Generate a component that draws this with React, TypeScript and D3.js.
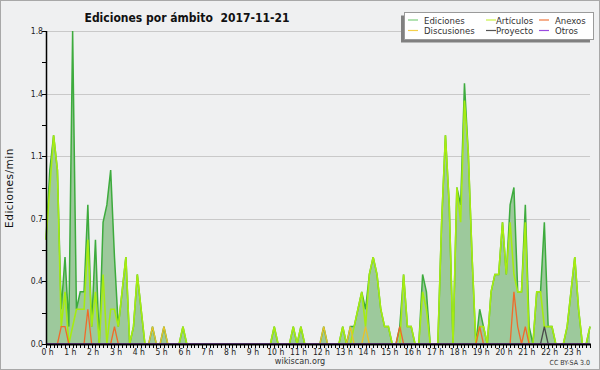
import React, { useRef, useEffect } from 'react';
import * as d3 from 'd3';

// one value every 10 minutes, 0:00 .. 23:50 (edits per minute)
const ediciones = [
  0.6, 1.0, 1.2, 1.0, 0.2, 0.5, 0.1, 1.8, 0.2, 0.3, 0.3, 0.8,
  0.1, 0.6, 0, 0.7, 0.8, 1.0, 0.5, 0.1, 0.3, 0.5, 0, 0.1,
  0.4, 0.2, 0, 0, 0.1, 0, 0, 0.1, 0, 0, 0, 0,
  0.1, 0, 0, 0, 0, 0, 0, 0, 0, 0, 0, 0,
  0, 0, 0, 0, 0, 0, 0, 0, 0, 0, 0, 0,
  0.1, 0, 0, 0, 0, 0.1, 0, 0.1, 0, 0, 0, 0,
  0, 0.1, 0, 0, 0, 0, 0.1, 0, 0.1, 0.1, 0.2, 0.3,
  0.2, 0.4, 0.5, 0.4, 0.2, 0.1, 0.1, 0, 0, 0.1, 0.4, 0.1,
  0.1, 0, 0, 0.4, 0.3, 0, 0, 0, 0.7, 1.2, 0.8, 0,
  0.9, 0.8, 1.5, 1.1, 0.5, 0, 0.2, 0.1, 0, 0.3, 0.4, 0.4,
  0.7, 0.4, 0.8, 0.9, 0.3, 0.3, 0.8, 0.1, 0, 0.3, 0.3, 0.7,
  0.1, 0.1, 0, 0, 0, 0.1, 0.3, 0.5, 0.2, 0, 0, 0.1
];

const articulos = [
  0.6, 0.9, 1.2, 1.0, 0.1, 0.3, 0, 0.1, 0.2, 0.2, 0.2, 0.6,
  0.1, 0.3, 0, 0.4, 0, 0.2, 0.2, 0.1, 0.3, 0.5, 0, 0.1,
  0.4, 0.2, 0, 0, 0, 0, 0, 0, 0, 0, 0, 0,
  0.1, 0, 0, 0, 0, 0, 0, 0, 0, 0, 0, 0,
  0, 0, 0, 0, 0, 0, 0, 0, 0, 0, 0, 0,
  0.1, 0, 0, 0, 0, 0.1, 0, 0.1, 0, 0, 0, 0,
  0, 0, 0, 0, 0, 0, 0.1, 0, 0, 0.1, 0.2, 0.3,
  0.1, 0.4, 0.5, 0.4, 0.2, 0.1, 0.1, 0, 0, 0, 0.4, 0.1,
  0.1, 0, 0, 0.3, 0.2, 0, 0, 0, 0.7, 1.2, 0.8, 0,
  0.9, 0.7, 1.4, 1.1, 0.5, 0, 0.1, 0.1, 0, 0.3, 0.4, 0.4,
  0.7, 0.4, 0.7, 0.4, 0.3, 0.3, 0.7, 0, 0, 0.3, 0.3, 0.1,
  0.1, 0.1, 0, 0, 0, 0.1, 0.3, 0.5, 0.2, 0, 0, 0.1
];

const anexos = [
  0, 0, 0, 0, 0.1, 0.1, 0, 0, 0, 0, 0, 0.2,
  0, 0, 0, 0, 0, 0, 0.1, 0, 0, 0, 0, 0,
  0, 0, 0, 0, 0, 0, 0, 0, 0, 0, 0, 0,
  0, 0, 0, 0, 0, 0, 0, 0, 0, 0, 0, 0,
  0, 0, 0, 0, 0, 0, 0, 0, 0, 0, 0, 0,
  0, 0, 0, 0, 0, 0, 0, 0, 0, 0, 0, 0,
  0, 0, 0, 0, 0, 0, 0, 0, 0, 0, 0, 0,
  0, 0, 0, 0, 0, 0, 0, 0, 0, 0.1, 0, 0,
  0, 0, 0, 0, 0, 0, 0, 0, 0, 0, 0, 0,
  0, 0, 0, 0, 0, 0, 0.1, 0, 0, 0, 0, 0,
  0, 0, 0, 0.3, 0.1, 0, 0.1, 0, 0, 0, 0, 0,
  0, 0, 0, 0, 0, 0, 0, 0, 0, 0, 0, 0
];

const discusiones = [
  0, 0, 0, 0, 0, 0, 0, 0, 0, 0, 0, 0,
  0, 0, 0, 0, 0, 0, 0, 0, 0, 0, 0, 0,
  0, 0, 0, 0, 0.1, 0, 0, 0.1, 0, 0, 0, 0,
  0, 0, 0, 0, 0, 0, 0, 0, 0, 0, 0, 0,
  0, 0, 0, 0, 0, 0, 0, 0, 0, 0, 0, 0,
  0, 0, 0, 0, 0, 0, 0, 0, 0, 0, 0, 0,
  0, 0.1, 0, 0, 0, 0, 0, 0, 0.1, 0, 0, 0,
  0.1, 0, 0, 0, 0, 0, 0, 0, 0, 0, 0, 0,
  0, 0, 0, 0, 0, 0, 0, 0, 0, 0, 0, 0,
  0, 0, 0, 0, 0, 0, 0, 0, 0, 0, 0, 0,
  0, 0, 0, 0, 0, 0, 0, 0, 0, 0, 0, 0,
  0, 0, 0, 0, 0, 0, 0, 0, 0, 0, 0, 0
];

const proyecto = [
  0, 0, 0, 0, 0, 0, 0, 0, 0, 0, 0, 0,
  0, 0, 0, 0, 0, 0, 0, 0, 0, 0, 0, 0,
  0, 0, 0, 0, 0, 0, 0, 0, 0, 0, 0, 0,
  0, 0, 0, 0, 0, 0, 0, 0, 0, 0, 0, 0,
  0, 0, 0, 0, 0, 0, 0, 0, 0, 0, 0, 0,
  0, 0, 0, 0, 0, 0, 0, 0, 0, 0, 0, 0,
  0, 0, 0, 0, 0, 0, 0, 0, 0, 0, 0, 0,
  0, 0, 0, 0, 0, 0, 0, 0, 0, 0, 0, 0,
  0, 0, 0, 0, 0, 0, 0, 0, 0, 0, 0, 0,
  0, 0, 0, 0, 0, 0, 0, 0, 0, 0, 0, 0,
  0, 0, 0, 0, 0, 0, 0, 0, 0, 0, 0, 0.1,
  0, 0, 0, 0, 0, 0, 0, 0, 0, 0, 0, 0
];

const otros = new Array(144).fill(0);

const hourLabels = [
  '0 h', '1 h', '2 h', '3 h', '4 h', '5 h', '6 h', '7 h', '8 h', '9 h', '10 h', '11 h',
  '12 h', '13 h', '14 h', '15 h', '16 h', '17 h', '18 h', '19 h', '20 h', '21 h', '22 h', '23 h'
];
const yTicks = [0, 0.36, 0.72, 1.08, 1.44, 1.8];

const legendItems = [
  { name: 'Ediciones', color: '#7fcf7f', col: 0, row: 0 },
  { name: 'Discusiones', color: '#f5d04a', col: 0, row: 1 },
  { name: 'Artículos', color: '#c8f048', col: 1, row: 0 },
  { name: 'Proyecto', color: '#555555', col: 1, row: 1 },
  { name: 'Anexos', color: '#f07840', col: 2, row: 0 },
  { name: 'Otros', color: '#9a4ae0', col: 2, row: 1 }
];

const W = 600;
const H = 370;

const App: React.FC = () => {
  const svgRef = useRef<SVGSVGElement>(null);

  useEffect(() => {
    if (!svgRef.current) return;
    const svg = d3.select(svgRef.current);
    svg.selectAll('*').remove();

    const left = 46, right = 590, top = 31, bottom = 344;
    const font = "'DejaVu Sans Condensed', 'DejaVu Sans', sans-serif";

    const x = d3.scaleLinear().domain([0, 143]).range([left, right]);
    const y = d3.scaleLinear().domain([0, 1.8]).range([bottom, top]);

    // background + frame
    svg.append('rect').attr('x', 0.5).attr('y', 0.5).attr('width', W - 1).attr('height', H - 1)
      .attr('fill', '#eff0f1').attr('stroke', '#a8a8a8');

    // grid
    svg.append('g').selectAll('line').data(yTicks.slice(1)).enter().append('line')
      .attr('x1', left).attr('x2', right)
      .attr('y1', d => Math.round(y(d)) + 0.5).attr('y2', d => Math.round(y(d)) + 0.5)
      .attr('stroke', '#c9c9c9');

    const idx = d3.range(ediciones.length);

    const area = d3.area<number>()
      .x(i => x(i)).y0(bottom).y1(i => y(ediciones[i]));
    const line = (vals: number[]) => d3.line<number>().x(i => x(i)).y(i => y(vals[i]))(idx);

    svg.append('path').attr('d', area(idx)).attr('fill', '#9dc99c');
    svg.append('path').attr('d', line(ediciones)).attr('fill', 'none')
      .attr('stroke', '#3dab3d').attr('stroke-width', 1.5);
    svg.append('path').attr('d', line(articulos)).attr('fill', 'none')
      .attr('stroke', '#a6ec10').attr('stroke-width', 1.6);
    svg.append('path').attr('d', line(anexos)).attr('fill', 'none')
      .attr('stroke', '#f06a2a').attr('stroke-width', 1.3);
    svg.append('path').attr('d', line(discusiones)).attr('fill', 'none')
      .attr('stroke', '#e8c22a').attr('stroke-width', 1.3);
    svg.append('path').attr('d', line(proyecto)).attr('fill', 'none')
      .attr('stroke', '#4a4a4a').attr('stroke-width', 1.3);
    svg.append('path').attr('d', line(otros)).attr('fill', 'none')
      .attr('stroke', '#9a4ae0').attr('stroke-width', 1.3);

    // y axis
    const yMinor = d3.range(0, 11).map(k => k * 0.18);
    svg.append('g').selectAll('line').data(yMinor).enter().append('line')
      .attr('x1', left - 4).attr('x2', left)
      .attr('y1', d => Math.round(y(d)) + 0.5).attr('y2', d => Math.round(y(d)) + 0.5)
      .attr('stroke', '#000');
    svg.append('line').attr('x1', left + 0.5).attr('x2', left + 0.5).attr('y1', top).attr('y2', bottom)
      .attr('stroke', '#000').attr('stroke-width', 1.5);
    svg.append('g').selectAll('text').data(yTicks).enter().append('text')
      .attr('x', left - 3).attr('y', d => y(d) + 3)
      .attr('text-anchor', 'end').attr('font-family', font).attr('font-size', 8.5)
      .attr('fill', '#222').text(d => d3.format('.1f')(d));

    // x axis
    svg.append('g').selectAll('line').data(idx).enter().append('line')
      .attr('x1', i => Math.round(x(i)) + 0.5).attr('x2', i => Math.round(x(i)) + 0.5)
      .attr('y1', bottom).attr('y2', bottom + 4)
      .attr('stroke', '#000');
    svg.append('line').attr('x1', left).attr('x2', right + 1).attr('y1', bottom + 0.5).attr('y2', bottom + 0.5)
      .attr('stroke', '#000').attr('stroke-width', 2);
    svg.append('g').selectAll('text').data(hourLabels).enter().append('text')
      .attr('x', (_d, h) => x(h * 6) + 1.5).attr('y', bottom + 11)
      .attr('text-anchor', 'middle').attr('font-family', font).attr('font-size', 8.5)
      .attr('fill', '#222').text(d => d);

    // axis title
    svg.append('text')
      .attr('transform', 'translate(13,188) rotate(-90)')
      .attr('text-anchor', 'middle').attr('font-family', "'DejaVu Sans', sans-serif")
      .attr('font-size', 10.5).attr('letter-spacing', 0.5).attr('fill', '#111').text('Ediciones/min');

    // title (double space kept)
    svg.append('text').attr('x', 187).attr('y', 22)
      .attr('text-anchor', 'middle').attr('font-family', font).attr('font-weight', 'bold')
      .attr('font-size', 12).attr('fill', '#111')
      .style('white-space', 'pre')
      .attr('textLength', 205).attr('lengthAdjust', 'spacingAndGlyphs')
      .text('Ediciones por ámbito  2017-11-21');

    // legend
    const lg = svg.append('g');
    lg.append('rect').attr('x', 401).attr('y', 15.5).attr('width', 189).attr('height', 27)
      .attr('fill', '#808080');
    lg.append('rect').attr('x', 404.5).attr('y', 12.5).attr('width', 189).attr('height', 27)
      .attr('fill', '#fff').attr('stroke', '#9a9a9a');
    const colX = [408, 486, 539];
    const colT = [424, 496, 555];
    legendItems.forEach(it => {
      const ly = 20 + it.row * 10.5;
      lg.append('line').attr('x1', colX[it.col]).attr('x2', colX[it.col] + 10)
        .attr('y1', ly).attr('y2', ly).attr('stroke', it.color).attr('stroke-width', 1.2);
      lg.append('text').attr('x', colT[it.col]).attr('y', ly + 3.5)
        .attr('font-family', font).attr('font-size', 9.5).attr('fill', '#333').text(it.name);
    });

    // footer
    svg.append('text').attr('x', 300).attr('y', 364).attr('text-anchor', 'middle')
      .attr('font-family', font).attr('font-size', 9).attr('fill', '#333').text('wikiscan.org');
    svg.append('text').attr('x', 590).attr('y', 365).attr('text-anchor', 'end')
      .attr('font-family', font).attr('font-size', 7).attr('fill', '#333').text('CC BY-SA 3.0');
  }, []);

  return (
    <svg
      ref={svgRef}
      width={W}
      height={H}
      style={{ position: 'absolute', left: 0, top: 0 }}
      viewBox={`0 0 ${W} ${H}`}
    />
  );
};

export default App;
